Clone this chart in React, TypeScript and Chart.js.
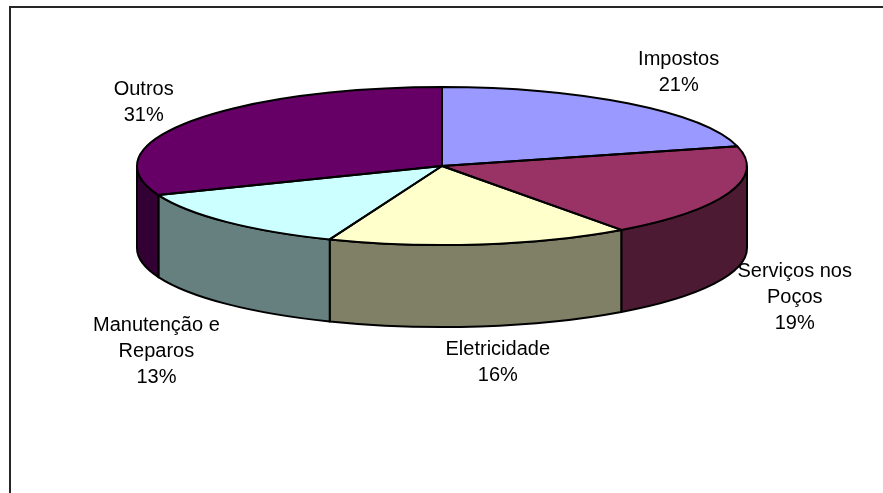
import { useEffect, useRef } from "react";
import { Chart, registerables } from "chart.js";

Chart.register(...registerables);

// Cost breakdown, in percent of the total
const categories = ["Impostos", "Serviços nos Poços", "Eletricidade", "Manutenção e Reparos", "Outros"];
const labelLines = [["Impostos"], ["Serviços nos", "Poços"], ["Eletricidade"], ["Manutenção e", "Reparos"], ["Outros"]];
const shares = [21, 19, 16, 13, 31];
const topColors = ["#9999FF", "#993366", "#FFFFCC", "#CCFFFF", "#660066"];

// small hand adjustments of each label block, in pixels
const labelNudges = [[3, 5], [-6, 5], [8, -12], [-16, 13], [17, 6]];

// 3D look of the pie: half-axes of the top ellipse and height of the wall
const RX = 305;
const RY = 79;
const DEPTH = 82;
const FONT = '20px "Liberation Sans", Arial, sans-serif';
const LINE_H = 26;

function darker(hex: string): string {
  const n = parseInt(hex.slice(1), 16);
  const r = (n >> 16) & 255, g = (n >> 8) & 255, b = n & 255;
  return `rgb(${Math.round(r / 2)},${Math.round(g / 2)},${Math.round(b / 2)})`;
}

let squashed = false;

const pie3d = {
  id: "pie3d",
  beforeDatasetsDraw(chart: any) {
    const arcs = chart.getDatasetMeta(0).data as any[];
    if (!arcs.length) return;
    const { x: cx, y: cy, outerRadius: r } = arcs[0].getProps(["x", "y", "outerRadius"], true);
    const ctx: CanvasRenderingContext2D = chart.ctx;

    // side walls of the front half
    ctx.save();
    ctx.lineWidth = 2;
    ctx.strokeStyle = "#000";
    ctx.lineJoin = "round";
    arcs.forEach((arc, i) => {
      const { startAngle: s, endAngle: e } = arc.getProps(["startAngle", "endAngle"], true);
      const a0 = Math.max(s, 0);
      const a1 = Math.min(e, Math.PI);
      if (a1 <= a0) return;
      ctx.beginPath();
      ctx.ellipse(cx, cy, RX, RY, 0, a0, a1);
      ctx.lineTo(cx + RX * Math.cos(a1), cy + DEPTH + RY * Math.sin(a1));
      ctx.ellipse(cx, cy + DEPTH, RX, RY, 0, a1, a0, true);
      ctx.closePath();
      ctx.fillStyle = darker(topColors[i]);
      ctx.fill();
      ctx.stroke();
    });
    ctx.restore();

    // tilt the flat pie into an ellipse for the top faces
    ctx.save();
    ctx.translate(cx, cy);
    ctx.scale(RX / r, RY / r);
    ctx.translate(-cx, -cy);
    squashed = true;
  },
  afterDatasetsDraw(chart: any) {
    const ctx: CanvasRenderingContext2D = chart.ctx;
    if (squashed) {
      ctx.restore();
      squashed = false;
    }
    const arcs = chart.getDatasetMeta(0).data as any[];
    if (!arcs.length) return;
    const { x: cx, y: cy } = arcs[0].getProps(["x", "y"], true);

    ctx.save();
    ctx.lineWidth = 2;
    ctx.strokeStyle = "#000";
    ctx.lineJoin = "round";
    arcs.forEach((arc) => {
      const { startAngle: s, endAngle: e } = arc.getProps(["startAngle", "endAngle"], true);
      ctx.beginPath();
      ctx.moveTo(cx, cy);
      ctx.lineTo(cx + RX * Math.cos(s), cy + RY * Math.sin(s));
      ctx.ellipse(cx, cy, RX, RY, 0, s, e);
      ctx.closePath();
      ctx.stroke();
    });

    // category and percent labels outside the pie
    ctx.font = FONT;
    ctx.fillStyle = "#000";
    ctx.textAlign = "center";
    ctx.textBaseline = "alphabetic";
    arcs.forEach((arc, i) => {
      const { startAngle: s, endAngle: e } = arc.getProps(["startAngle", "endAngle"], true);
      const mid = (s + e) / 2;
      const ux = Math.cos(mid);
      const uy = Math.sin(mid);
      const x = cx + ux * RX * 1.25 + labelNudges[i][0];
      const y = cy + uy * RY * 1.6 + (uy > 0 ? DEPTH : 0) + labelNudges[i][1];
      const lines = [...labelLines[i], `${shares[i]}%`];
      const first = y + 7 - ((lines.length - 1) * LINE_H) / 2;
      lines.forEach((t, k) => ctx.fillText(t, x, first + k * LINE_H));
    });
    ctx.restore();
  },
};

export default function App() {
  const canvasRef = useRef<HTMLCanvasElement | null>(null);

  useEffect(() => {
    if (!canvasRef.current) return;
    const chart = new Chart(canvasRef.current, {
      type: "pie",
      data: {
        labels: categories,
        datasets: [
          {
            data: shares,
            backgroundColor: topColors,
            borderWidth: 0,
            hoverOffset: 0,
            offset: 0,
            clip: false as any,
          },
        ],
      },
      options: {
        responsive: false,
        animation: false,
        devicePixelRatio: 1,
        layout: { padding: { left: 1, right: 0, top: 16, bottom: 177 } },
        plugins: {
          legend: { display: false },
          tooltip: { enabled: false },
        },
        events: [],
      },
      plugins: [pie3d],
    });
    return () => chart.destroy();
  }, []);

  return (
    <div
      style={{
        position: "fixed",
        left: 0,
        top: 0,
        width: 883,
        height: 493,
        overflow: "hidden",
        background: "#fff",
      }}
    >
      <div
        style={{
          position: "absolute",
          left: 9,
          top: 6,
          width: 1000,
          height: 1000,
          borderLeft: "2px solid #262626",
          borderTop: "2px solid #262626",
        }}
      />
      <canvas
        ref={canvasRef}
        width={883}
        height={493}
        style={{ position: "absolute", left: 0, top: 0, width: 883, height: 493 }}
      />
    </div>
  );
}
